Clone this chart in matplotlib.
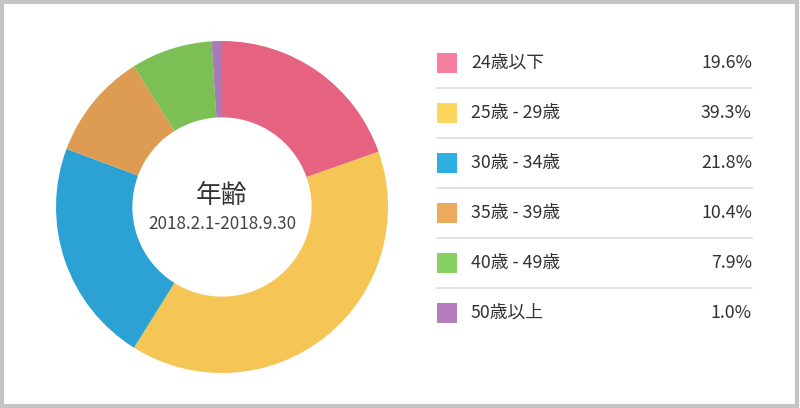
import matplotlib.pyplot as plt
from matplotlib.patches import Rectangle
from matplotlib.lines import Line2D

plt.rcParams['font.family'] = ['Noto Sans CJK JP', 'DejaVu Sans']

labels = ["24歳以下", "25歳 - 29歳", "30歳 - 34歳", "35歳 - 39歳", "40歳 - 49歳", "50歳以上"]
shares = [19.6, 39.3, 21.8, 10.4, 7.9, 1.0]
slice_colors = ["#e56381", "#f5c555", "#2ca2d4", "#dd9c52", "#7bbf55", "#a77ab8"]
key_colors = ["#f77fa1", "#fdd660", "#2eafe1", "#ecab5c", "#86d162", "#b67cc0"]
title = "年齢"
period = "2018.2.1-2018.9.30"

W, H = 800, 408
fig = plt.figure(figsize=(W / 100, H / 100), dpi=100)

def fx(px):
    return px / W

def fy(py):
    return 1 - py / H

# donut
cx, cy, r = 222, 207, 166
ax = fig.add_axes([fx(cx - r), fy(cy + r), 2 * r / W, 2 * r / H])
ax.pie(shares, colors=slice_colors, startangle=90, counterclock=False,
       radius=1, wedgeprops=dict(width=0.46, linewidth=0))
ax.set_xlim(-1, 1)
ax.set_ylim(-1, 1)
ax.axis('off')
ax.text(0, 0.065, title, ha='center', va='center', fontsize=18.5, color='#333333')
ax.text(0, -0.10, period, ha='center', va='center', fontsize=12.3, color='#444444')

# legend rows
row_y0, row_step = 63, 50
for i, (lab, val) in enumerate(zip(labels, shares)):
    y = row_y0 + i * row_step
    fig.patches.append(Rectangle((fx(437), fy(y + 10)), 20 / W, 20 / H,
                                 transform=fig.transFigure, facecolor=key_colors[i],
                                 edgecolor='none'))
    fig.text(fx(471), fy(y), lab, ha='left', va='center', fontsize=12.8, color='#333333')
    fig.text(fx(752), fy(y), f"{val:.1f}%", ha='right', va='center', fontsize=12.8,
             color='#333333')
    if i < len(labels) - 1:
        fig.add_artist(Line2D([fx(437), fx(752)], [fy(y + 25)] * 2, color='#dddddd',
                              linewidth=1.2, transform=fig.transFigure))

# outer frame
fig.patches.append(Rectangle((0.002, 0.004), 0.994, 0.99, transform=fig.transFigure,
                             facecolor='none', edgecolor='#c4c4c4', linewidth=3))

fig.savefig("out.png", dpi=100)
